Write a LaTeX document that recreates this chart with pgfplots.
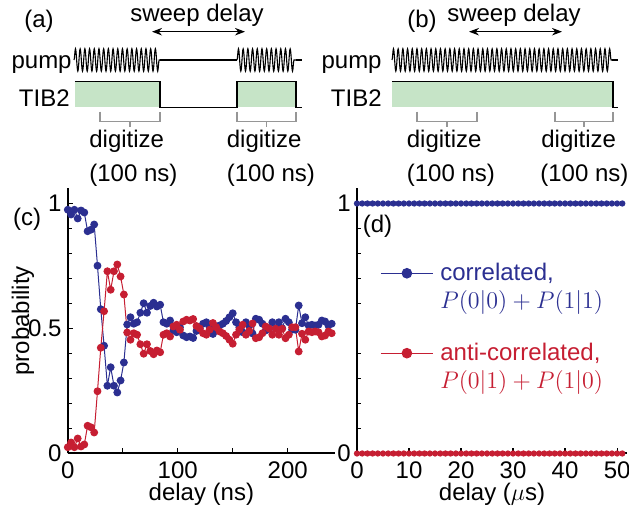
\documentclass[border=0pt]{standalone}
\usepackage{fontspec}
\setmainfont{Liberation Sans}
\usepackage{pgfplots}
\pgfplotsset{compat=1.18}
\usepackage{pgfplotstable}
\usetikzlibrary{arrows.meta,decorations.pathmorphing}
\definecolor{mblue}{RGB}{43,47,145}
\definecolor{mred}{RGB}{198,30,50}
\definecolor{mgreen}{RGB}{198,228,199}
\definecolor{mgray}{RGB}{150,150,150}

\pgfplotstableread{
x blue red
0 0.975 0.025
3 0.956 0.044
6 0.975 0.025
9 0.940 0.060
12 0.972 0.028
15 0.964 0.036
18 0.889 0.111
21 0.895 0.105
24 0.916 0.084
27 0.751 0.249
30 0.577 0.423
33 0.431 0.569
36 0.271 0.729
39 0.345 0.655
42 0.271 0.729
45 0.244 0.756
48 0.292 0.708
51 0.364 0.636
54 0.516 0.484
57 0.545 0.455
60 0.519 0.481
63 0.525 0.475
66 0.563 0.437
69 0.601 0.399
72 0.563 0.437
75 0.590 0.410
78 0.603 0.397
81 0.588 0.412
84 0.595 0.405
87 0.525 0.475
90 0.519 0.481
93 0.532 0.468
96 0.492 0.508
99 0.485 0.515
102 0.505 0.495
105 0.472 0.528
108 0.465 0.535
111 0.468 0.532
114 0.462 0.538
117 0.490 0.510
120 0.500 0.500
123 0.519 0.481
126 0.525 0.475
129 0.505 0.495
132 0.478 0.522
135 0.495 0.505
138 0.512 0.488
141 0.519 0.481
144 0.530 0.470
147 0.545 0.455
150 0.561 0.439
153 0.525 0.475
156 0.505 0.495
159 0.485 0.515
162 0.525 0.475
165 0.510 0.490
168 0.480 0.520
171 0.539 0.461
174 0.535 0.465
177 0.519 0.481
180 0.492 0.508
183 0.500 0.500
186 0.525 0.475
189 0.501 0.499
192 0.525 0.475
195 0.501 0.499
198 0.539 0.461
201 0.525 0.475
204 0.495 0.505
207 0.495 0.505
210 0.592 0.408
213 0.521 0.479
216 0.545 0.455
219 0.512 0.488
222 0.515 0.485
225 0.512 0.488
228 0.515 0.485
231 0.532 0.468
234 0.528 0.472
237 0.512 0.488
240 0.519 0.481
}\datac

\pgfplotstableread{
x blue red
0 1 0
1 1 0
2 1 0
3 1 0
4 1 0
5 1 0
6 1 0
7 1 0
8 1 0
9 1 0
10 1 0
11 1 0
12 1 0
13 1 0
14 1 0
15 1 0
16 1 0
17 1 0
18 1 0
19 1 0
20 1 0
21 1 0
22 1 0
23 1 0
24 1 0
25 1 0
26 1 0
27 1 0
28 1 0
29 1 0
30 1 0
31 1 0
32 1 0
33 1 0
34 1 0
35 1 0
36 1 0
37 1 0
38 1 0
39 1 0
40 1 0
41 1 0
42 1 0
43 1 0
44 1 0
45 1 0
46 1 0
47 1 0
48 1 0
49 1 0
50 1 0
51 1 0
}\datad

\pgfplotsset{
  myaxis/.style={
    scale only axis, anchor=south west,
    axis x line*=bottom, axis y line*=left,
    axis line style={line width=1pt,-},
    tick align=inside,
    major tick length=2.5pt, minor tick length=2pt,
    every tick/.style={line width=0.6pt,black},
    ymin=0, ymax=1.062, enlargelimits=false, clip=false,
    ticklabel style={font=\fontsize{12}{14}\selectfont},
    yticklabel style={inner sep=3pt},
    xticklabel style={inner sep=0pt, yshift=-3.8pt},
    label style={font=\fontsize{12}{14}\selectfont, inner sep=0pt},
    minor ytick={0.1,0.2,0.3,0.4,0.6,0.7,0.8,0.9},
  },
  mylegend/.style={
    legend style={at={(axis description cs:0.0852,#1)}, anchor=north west,
      draw=none, fill=none, inner sep=0pt, column sep=3.5pt,
      cells={anchor=base west}, nodes={inner sep=0pt},
      font=\fontsize{12}{14}\selectfont},
    legend image code/.code={
      \draw[##1,mark=none] (0pt,3.6pt) -- (26pt,3.6pt);
      \draw[##1,only marks,mark size=2.4pt] plot coordinates {(13pt,3.6pt)};
    },
  },
}
\tikzset{pumpwave/.style={decorate,decoration={snake,amplitude=5.6pt,segment length=2.35pt}}}

\begin{document}
\fontsize{12}{14}\selectfont
\begin{tikzpicture}
\useasboundingbox (0pt,0pt) rectangle (314.5pt,-256pt);
\begin{scope}[x=0.5pt,y=-0.5pt,every node/.style={inner sep=0pt}]
% panel (a)
\node[anchor=base] at (39,28) {(a)};
\node[anchor=base] at (197,21.7) {sweep delay};
\draw[{Stealth[length=5pt]}-{Stealth[length=5pt]},line width=0.6pt] (152,31.7) -- (245,31.7);
\node[anchor=base east] at (72,68.3) {pump};
\draw[line width=0.55pt,pumpwave] (74,60) -- (160,60);
\draw[line width=0.55pt] (160,60) -- (237,60);
\draw[line width=0.55pt,pumpwave] (237,60) -- (296,60);
\draw[line width=0.55pt] (296,60) -- (302,60);
\node[anchor=base east] at (70,106.5) {TIB2};
\fill[mgreen] (75,81.7) rectangle (160,107.3);
\fill[mgreen] (237,81.7) rectangle (296,107.3);
\draw[line width=0.6pt] (75,81.7) -- (160,81.7) -- (160,107.3) -- (237,107.3) -- (237,81.7) -- (296,81.7) -- (296,107.3) -- (302,107.3);
\draw[mgray,line width=0.8pt] (100,111.7) -- (100,121.7) -- (160,121.7) -- (160,111.7);
\draw[mgray,line width=0.8pt] (130,121.7) -- (130,126.7);
\draw[mgray,line width=0.8pt] (237,111.7) -- (237,121.7) -- (296,121.7) -- (296,111.7);
\draw[mgray,line width=0.8pt] (266.5,121.7) -- (266.5,126.7);
\node[anchor=base west] at (89,148) {digitize};
\node[anchor=base west] at (89,181.5) {(100 ns)};
\node[anchor=base west] at (226.5,148) {digitize};
\node[anchor=base west] at (226.5,181.5) {(100 ns)};
% panel (b)
\node[anchor=base] at (422,28) {(b)};
\node[anchor=base] at (514,21.7) {sweep delay};
\draw[{Stealth[length=5pt]}-{Stealth[length=5pt]},line width=0.6pt] (469,31.7) -- (562,31.7);
\node[anchor=base east] at (382,68.3) {pump};
\draw[line width=0.55pt,pumpwave] (392,60) -- (612,60);
\draw[line width=0.55pt] (612,60) -- (618,60);
\node[anchor=base east] at (382,106.5) {TIB2};
\fill[mgreen] (392,81.7) rectangle (613,107.3);
\draw[line width=0.6pt] (392,81.7) -- (613,81.7) -- (613,107.3) -- (618,107.3);
\draw[mgray,line width=0.8pt] (417,111.7) -- (417,121.7) -- (477,121.7) -- (477,111.7);
\draw[mgray,line width=0.8pt] (447,121.7) -- (447,126.7);
\draw[mgray,line width=0.8pt] (555,111.7) -- (555,121.7) -- (613,121.7) -- (613,111.7);
\draw[mgray,line width=0.8pt] (584,121.7) -- (584,126.7);
\node[anchor=base west] at (406.5,148) {digitize};
\node[anchor=base west] at (406.5,181.5) {(100 ns)};
\node[anchor=base west] at (541,148) {digitize};
\node[anchor=base west] at (540,181.5) {(100 ns)};
% panel labels
\node[anchor=base] at (27,226) {(c)};
\node[anchor=base] at (377.5,233) {(d)};
\end{scope}

% panel (c)
\begin{axis}[myaxis, at={(33.9pt,-226.75pt)}, width=133.6pt, height=132.75pt,
  xmin=0, xmax=243,
  xtick={0,50,100,150,200}, xticklabels={0,,100,,200},
  ytick={0,0.5,1}, yticklabels={0,0.5,1},
  xlabel={delay (ns)}, ylabel={probability},
  xlabel style={at={(axis description cs:0.5,-0.153)},anchor=center},
  ylabel style={at={(axis description cs:-0.168,0.5)},anchor=center},
]
\addplot[mblue, line width=0.5pt, mark=*, mark size=1.7pt] table[x=x,y=blue]{\datac};
\addplot[mred, line width=0.5pt, mark=*, mark size=1.7pt] table[x=x,y=red]{\datac};
\end{axis}

% panel (d): blue series, axes and first legend entry
\begin{axis}[myaxis, at={(178.5pt,-226.75pt)}, width=135pt, height=132.75pt,
  xmin=0, xmax=51.9,
  xtick={0,10,20,30,40,50}, xticklabels={0,10,20,30,40,50},
  ytick={0,1}, yticklabels={0,1},
  xlabel={delay ($\mu$s)},
  xlabel style={at={(axis description cs:0.5,-0.153)},anchor=center},
  mylegend=0.727,
]
\addplot[mblue, line width=0.5pt, mark=*, mark size=1.3pt] table[x=x,y=blue]{\datad};
\addlegendentry[text=mblue]{\begin{tabular}[t]{@{}l@{}}correlated,\\$P(0|0)+P(1|1)$\end{tabular}}
\end{axis}

% panel (d): red series and second legend entry
\begin{axis}[scale only axis, anchor=south west, at={(178.5pt,-226.75pt)}, width=135pt, height=132.75pt,
  xmin=0, xmax=51.9, ymin=0, ymax=1.062, enlargelimits=false, clip=false, hide axis,
  mylegend=0.426,
]
\addplot[mred, line width=0.5pt, mark=*, mark size=1.3pt] table[x=x,y=red]{\datad};
\addlegendentry[text=mred]{\begin{tabular}[t]{@{}l@{}}anti-correlated,\\$P(0|1)+P(1|0)$\end{tabular}}
\end{axis}
\end{tikzpicture}
\end{document}
